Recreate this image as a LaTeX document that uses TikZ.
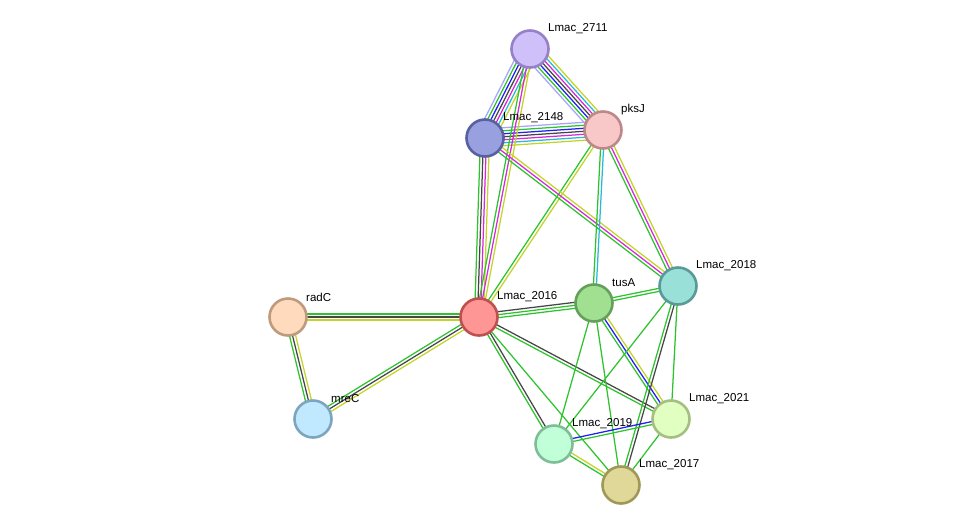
\documentclass[tikz,border=0pt]{standalone}
\usepackage{fontspec}
\setmainfont{Liberation Sans}
\usetikzlibrary{calc,backgrounds}
\definecolor{cG}{RGB}{45,195,45}
\definecolor{cB}{RGB}{30,30,245}
\definecolor{cK}{RGB}{70,70,70}
\definecolor{cM}{RGB}{215,40,215}
\definecolor{cC}{RGB}{40,185,215}
\definecolor{cY}{RGB}{195,212,40}
\definecolor{cL}{RGB}{165,165,250}
\tikzset{
  prot/.style={circle, minimum size=37pt, inner sep=0pt, line width=2.6pt},
  lbl/.style={anchor=west, font=\fontsize{11.5}{13}\selectfont, inner sep=0pt, text=black},
}
\newcommand{\ed}[4]{%
  \foreach \cc [count=\ii] in {#4}{%
    \pgfmathsetmacro\off{(\ii-(#3+1)/2)*3.0}%
    \draw[draw=\cc, line width=1.25pt] ($(#1)!\off pt!90:(#2)$) -- ($(#2)!\off pt!-90:(#1)$);
  }}
\begin{document}
\begin{tikzpicture}[x=1pt,y=-1pt]
\useasboundingbox (0,0) rectangle (975,531);
\node[prot, fill={rgb,255:red,208;green,192;blue,250}, draw={rgb,255:red,150;green,128;blue,200}] (n2711) at (530,49) {};
\node[prot, fill={rgb,255:red,248;green,200;blue,200}, draw={rgb,255:red,190;green,136;blue,136}] (pksJ) at (603,130) {};
\node[prot, fill={rgb,255:red,152;green,160;blue,224}, draw={rgb,255:red,88;green,96;blue,160}] (n2148) at (485,138) {};
\node[prot, fill={rgb,255:red,255;green,150;blue,150}, draw={rgb,255:red,190;green,80;blue,80}] (n2016) at (479,317) {};
\node[prot, fill={rgb,255:red,160;green,224;blue,144}, draw={rgb,255:red,100;green,160;blue,90}] (tusA) at (594,303) {};
\node[prot, fill={rgb,255:red,152;green,224;blue,216}, draw={rgb,255:red,88;green,155;blue,150}] (n2018) at (678,286) {};
\node[prot, fill={rgb,255:red,255;green,218;blue,188}, draw={rgb,255:red,190;green,155;blue,125}] (radC) at (288,317) {};
\node[prot, fill={rgb,255:red,192;green,232;blue,255}, draw={rgb,255:red,125;green,165;blue,190}] (mreC) at (313,419) {};
\node[prot, fill={rgb,255:red,224;green,255;blue,192}, draw={rgb,255:red,165;green,190;blue,130}] (n2021) at (671,419) {};
\node[prot, fill={rgb,255:red,192;green,255;blue,216}, draw={rgb,255:red,125;green,190;blue,150}] (n2019) at (554,444) {};
\node[prot, fill={rgb,255:red,224;green,216;blue,152}, draw={rgb,255:red,160;green,152;blue,88}] (n2017) at (621,485) {};
\begin{pgfonlayer}{background}
\ed{n2711}{n2148}{7}{cL,cG,cB,cK,cM,cC,cY}
\ed{n2711}{pksJ}{7}{cL,cG,cB,cK,cM,cC,cY}
\ed{pksJ}{n2148}{7}{cL,cG,cB,cK,cM,cC,cY}
\ed{n2148}{n2016}{4}{cG,cK,cM,cY}
\ed{n2711}{n2016}{3}{cG,cM,cY}
\ed{pksJ}{n2016}{2}{cG,cY}
\ed{n2148}{n2018}{3}{cG,cM,cY}
\ed{pksJ}{n2018}{3}{cG,cM,cY}
\ed{pksJ}{tusA}{2}{cG,cC}
\ed{n2016}{tusA}{3}{cG,cG,cK}
\ed{tusA}{n2018}{2}{cG,cG}
\ed{n2016}{radC}{3}{cG,cK,cY}
\ed{n2016}{mreC}{3}{cG,cK,cY}
\ed{radC}{mreC}{3}{cG,cK,cY}
\ed{n2016}{n2021}{2}{cG,cK}
\ed{n2016}{n2019}{2}{cG,cK}
\ed{n2016}{n2017}{1}{cG}
\ed{tusA}{n2021}{3}{cG,cB,cY}
\ed{tusA}{n2019}{1}{cG}
\ed{tusA}{n2017}{1}{cG}
\ed{n2018}{n2019}{1}{cG}
\ed{n2018}{n2017}{2}{cG,cK}
\ed{n2018}{n2021}{1}{cG}
\ed{n2019}{n2021}{2}{cG,cB}
\ed{n2019}{n2017}{2}{cG,cY}
\ed{n2021}{n2017}{1}{cG}
\end{pgfonlayer}
\node[lbl] (l2711) at ($(n2711)+(18,-20)$) {Lmac\_2711};
\node[lbl] (lpksJ) at ($(pksJ)+(18,-20)$) {pksJ};
\node[lbl] (l2148) at ($(n2148)+(18,-20)$) {Lmac\_2148};
\node[lbl] (l2016) at ($(n2016)+(18,-20)$) {Lmac\_2016};
\node[lbl] (ltusA) at ($(tusA)+(18,-20)$) {tusA};
\node[lbl] (l2018) at ($(n2018)+(18,-20)$) {Lmac\_2018};
\node[lbl] (lradC) at ($(radC)+(18,-20)$) {radC};
\node[lbl] (lmreC) at ($(mreC)+(18,-20)$) {mreC};
\node[lbl] (l2021) at ($(n2021)+(18,-20)$) {Lmac\_2021};
\node[lbl] (l2019) at ($(n2019)+(18,-20)$) {Lmac\_2019};
\node[lbl] (l2017) at ($(n2017)+(18,-20)$) {Lmac\_2017};
\end{tikzpicture}
\end{document}
